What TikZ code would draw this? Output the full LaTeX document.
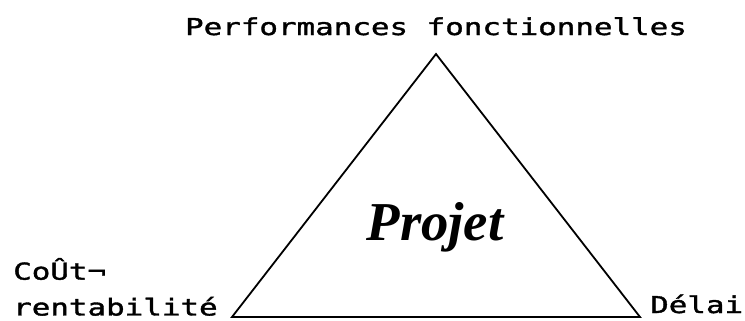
\documentclass[tikz,border=0pt]{standalone}
\usepackage{fontspec}
\setmainfont{Liberation Serif}
\newfontfamily\monofont[FakeStretch=1.33,FakeBold=1.6]{DejaVu Sans Mono}
\begin{document}
\begin{tikzpicture}[x=1bp,y=-1bp,
    sommet/.style={font=\monofont\fontsize{23.3}{36}\selectfont,inner sep=0pt},
    titre/.style={font=\bfseries\itshape\fontsize{55}{60}\selectfont,inner sep=0pt}]
            \def\hx{436}
            \def\hy{54}
            \def\gx{232}
            \def\dx{640}
            \def\by{317}
            \useasboundingbox (0,0) rectangle (745,320);
            \coordinate (haut) at (\hx,\hy);
            \coordinate (gauche) at (\gx,\by);
            \coordinate (droite) at (\dx,\by);
            \draw[line width=1.8bp,line join=miter]
                (haut)--(gauche)--(droite)--cycle;
            \node[titre,anchor=base] (projet) at (435,240) {Projet};
            \node[sommet,anchor=base] (perf) at (\hx,35)
                {Performances fonctionnelles};
            \node[sommet,anchor=south west,align=left] (cout) at (13,316)
                {CoÛt¬\\rentabilité};
            \node[sommet,anchor=base west] (delai) at (650,313) {Délai};
            \end{tikzpicture}
\end{document}
